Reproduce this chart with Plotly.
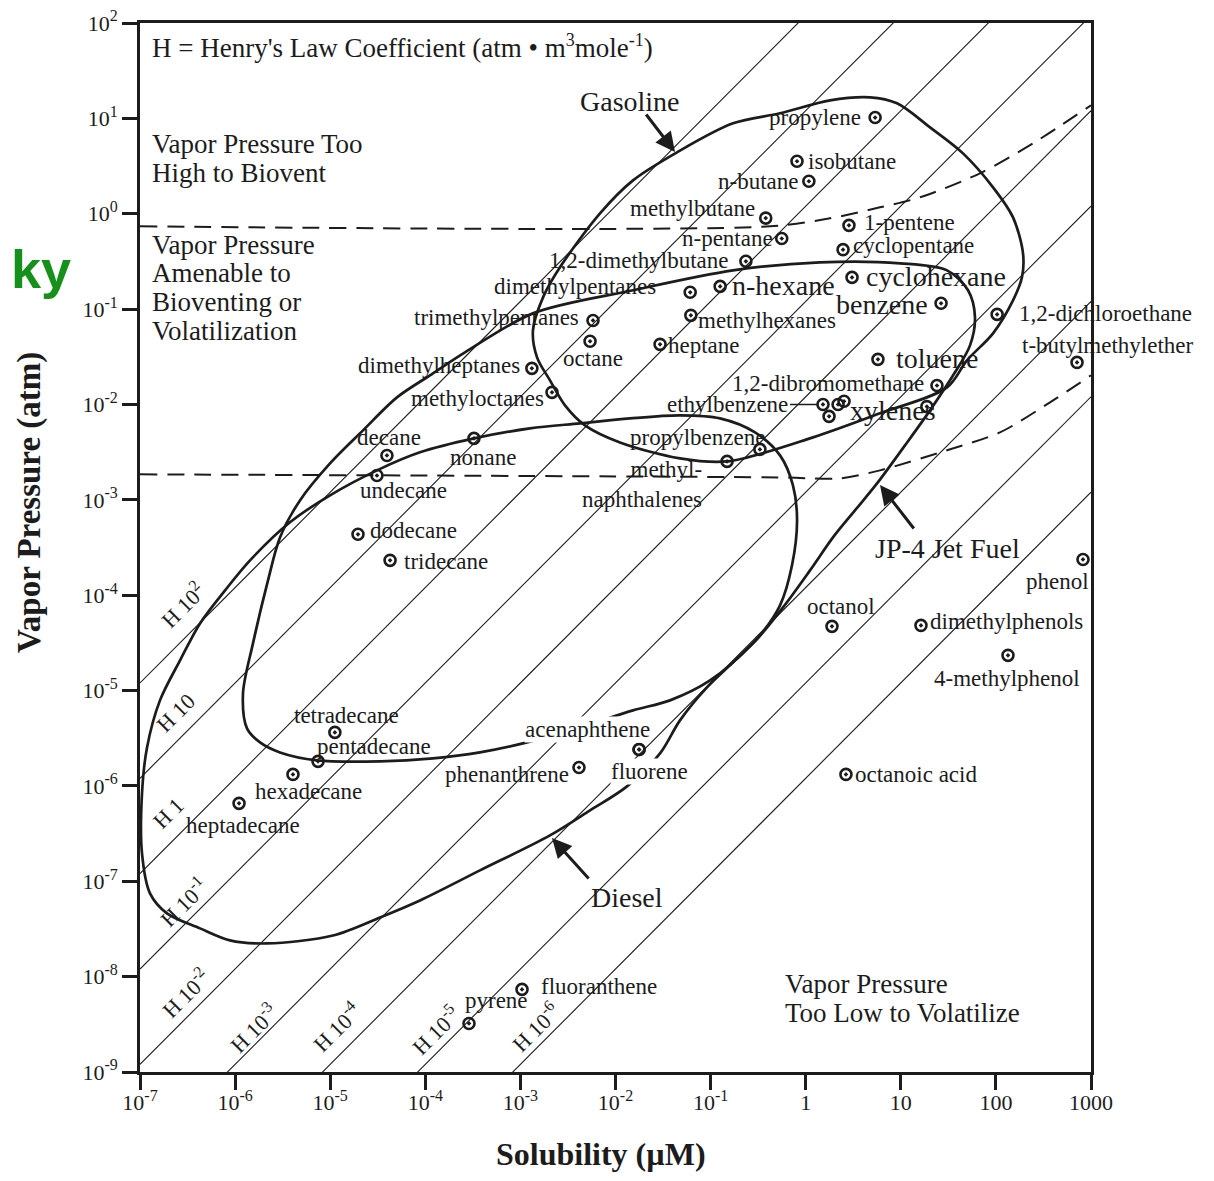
import numpy as np
import plotly.graph_objects as go

# ------------------------------------------------------------------ data
compounds = [
    "propylene", "isobutane", "n-butane", "methylbutane", "n-pentane",
    "1-pentene", "cyclopentane", "1,2-dimethylbutane", "cyclohexane", "n-hexane",
    "dimethylpentanes", "benzene", "methylhexanes", "1,2-dichloroethane", "trimethylpentanes",
    "octane", "heptane", "toluene", "t-butylmethylether", "dimethylheptanes",
    "1,2-dibromomethane", "methyloctanes", "ethylbenzene", "xylenes", "xylenes",
    "xylenes", "xylenes", "decane", "nonane", "propylbenzene",
    "methyl-naphthalenes", "undecane", "dodecane", "tridecane", "phenol",
    "octanol", "dimethylphenols", "4-methylphenol", "tetradecane", "pentadecane",
    "hexadecane", "heptadecane", "phenanthrene", "acenaphthene", "fluorene",
    "octanoic acid", "fluoranthene", "pyrene",
]
solubility_uM = [
    5.37, 0.81, 1.08, 0.38, 0.56,
    2.85, 2.47, 0.235, 3.07, 0.126,
    0.061, 26.5, 0.062, 103, 0.0058,
    0.0054, 0.0294, 5.75, 713, 0.00132,
    24.0, 0.00215, 1.52, 2.19, 2.53,
    1.76, 18.8, 3.95e-5, 3.25e-4, 0.33,
    0.149, 3.1e-5, 1.96e-5, 4.26e-5, 824,
    1.89, 16.3, 134, 1.12e-5, 7.45e-6,
    4.06e-6, 1.10e-6, 4.13e-3, 0.0177, 0.0177,
    2.65, 1.04e-3, 2.88e-4,
]
vapor_pressure_atm = [
    10.2, 3.55, 2.19, 0.90, 0.55,
    0.755, 0.42, 0.317, 0.215, 0.173,
    0.150, 0.115, 0.086, 0.088, 0.076,
    0.046, 0.0427, 0.0297, 0.0276, 0.0239,
    0.0158, 0.0134, 0.0100, 0.0100, 0.0108,
    0.0075, 0.0095, 2.92e-3, 4.41e-3, 3.38e-3,
    2.53e-3, 1.8e-3, 4.35e-4, 2.32e-4, 2.37e-4,
    4.71e-5, 4.82e-5, 2.34e-5, 3.64e-6, 1.81e-6,
    1.32e-6, 6.56e-7, 1.56e-6, 2.41e-6, 2.41e-6,
    1.32e-6, 7.35e-9, 3.23e-9,
]
point_text = [
    "propylene", "isobutane", "n-butane", "methylbutane", "n-pentane",
    "1-pentene", "cyclopentane", "1,2-dimethylbutane", "cyclohexane", "n-hexane",
    "dimethylpentanes", "benzene", "methylhexanes", "1,2-dichloroethane", "trimethylpentanes",
    "octane", "heptane", "toluene", "t-butylmethylether", "dimethylheptanes",
    "1,2-dibromomethane", "methyloctanes", "ethylbenzene", "xylenes", "",
    "", "", "decane", "nonane", "propylbenzene",
    "methyl-<br>naphthalenes", "undecane", "dodecane", "tridecane", "phenol",
    "octanol", "dimethylphenols", "4-methylphenol", "tetradecane", "pentadecane",
    "hexadecane", "heptadecane", "phenanthrene", "acenaphthene", "fluorene",
    "octanoic acid", "fluoranthene", "pyrene",
]

# Henry's law coefficient guide lines (exponents of H)
henry_exponents = [2, 1, 0, -1, -2, -3, -4, -5, -6]
henry_label_exp = ["2", "", "", "-1", "-2", "-3", "-4", "-5", "-6"]
henry_label_base = ["H 10", "H 10", "H 1", "H 10", "H 10", "H 10", "H 10", "H 10", "H 10"]
henry_line_drift = 0.08   # printed guide lines sit slightly above exact H (log10 units)

# envelopes (log10 solubility, log10 vapor pressure)
gasoline_log_s = [-2.762, -2.868, -2.825, -2.689, -2.531, -2.321, -1.953, -1.322, -0.828, 0.077,
                  0.781, 1.486, 1.696, 1.970, 2.180, 2.274, 2.285, 2.180, 1.970, 1.654,
                  1.307, 0.960, 0.676, 0.256, -0.270, -0.764, -1.353, -1.816, -2.163, -2.584, -2.762]
gasoline_log_vp = [-0.877, -1.223, -1.506, -1.747, -2.009, -2.219, -2.398, -2.565, -2.597, -2.345,
                   -2.093, -1.821, -1.537, -1.254, -0.908, -0.667, -0.415, -0.038, 0.277, 0.633,
                   0.906, 1.158, 1.221, 1.189, 1.053, 0.948, 0.644, 0.350, 0.004, -0.562, -0.877]

jp4_log_s = [-5.917, -5.812, -5.654, -5.528, -5.318, -5.002, -4.655, -4.298, -3.951, -3.583,
             -2.868, -1.816, -0.764, 0.150, 0.992, 1.486, 1.707, 1.780, 1.728, 1.570,
             1.307, 1.044, 0.750, 0.518, 0.287, 0.045, -0.239, -0.554, -1.006, -1.427,
             -1.816, -2.373, -2.931, -3.425, -3.919, -4.476, -5.139, -5.528, -5.738, -5.875, -5.917]
jp4_log_vp = [-5.030, -4.505, -3.845, -3.394, -3.006, -2.618, -2.272, -1.926, -1.695, -1.454,
              -1.045, -0.803, -0.594, -0.510, -0.520, -0.594, -0.803, -1.087, -1.380, -1.663,
              -2.062, -2.429, -2.828, -3.111, -3.394, -3.740, -4.128, -4.505, -4.894, -5.103,
              -5.208, -5.386, -5.544, -5.649, -5.712, -5.743, -5.732, -5.649, -5.544, -5.397, -5.030]

diesel_log_s = [-6.979, -6.979, -6.926, -6.790, -6.579, -6.369, -6.106, -5.843, -5.423, -5.002,
                -4.508, -4.056, -3.488, -2.899, -2.373, -1.848, -1.322, -0.901, -0.533, -0.270,
                -0.134, -0.091, -0.144, -0.270, -0.481, -0.743, -1.038, -1.322, -1.532, -1.879,
                -2.268, -2.689, -3.425, -4.056, -4.476, -4.971, -5.665, -6.054, -6.369, -6.716,
                -6.895, -6.979]
diesel_log_vp = [-6.708, -6.079, -5.596, -5.103, -4.684, -4.296, -3.950, -3.635, -3.236, -2.953,
                 -2.691, -2.502, -2.356, -2.251, -2.198, -2.146, -2.114, -2.146, -2.293, -2.534,
                 -2.848, -3.216, -3.687, -4.107, -4.422, -4.684, -4.967, -5.313, -5.659, -6.005,
                 -6.257, -6.519, -6.886, -7.201, -7.379, -7.568, -7.652, -7.620, -7.494, -7.337,
                 -7.127, -6.708]

# dashed bioventing limits
upper_limit_log_s = [-7.0, -0.375, 0.256, 0.781, 1.202, 1.833, 2.390, 3.0]
upper_limit_log_vp = [-0.132, -0.132, -0.048, 0.067, 0.172, 0.424, 0.738, 1.137]
lower_limit_log_s = [-7.0, -0.270, 0.361, 0.781, 1.486, 2.043, 2.569, 3.0]
lower_limit_log_vp = [-2.733, -2.765, -2.775, -2.691, -2.481, -2.293, -1.978, -1.695]

x_range_log = [-7, 3]
y_range_log = [-9, 2]
x_tick_vals = [1e-7, 1e-6, 1e-5, 1e-4, 1e-3, 1e-2, 1e-1, 1, 10, 100, 1000]
x_tick_exp = ["-7", "-6", "-5", "-4", "-3", "-2", "-1", None, None, None, None]
x_tick_plain = ["", "", "", "", "", "", "", "1", "10", "100", "1000"]
y_tick_vals = [1e2, 1e1, 1e0, 1e-1, 1e-2, 1e-3, 1e-4, 1e-5, 1e-6, 1e-7, 1e-8, 1e-9]
y_tick_exp = ["2", "1", "0", "-1", "-2", "-3", "-4", "-5", "-6", "-7", "-8", "-9"]

# ------------------------------------------------------------------ style / layout
SERIF = "Liberation Serif, Times New Roman, serif"
INK = "#1c1c1c"
BODY = 8                          # default page margin around the plot div
WIN_W, WIN_H = 1214, 1181
W, H = WIN_W - 2 * BODY, WIN_H - 2 * BODY
# plot box in window pixels
BOX_L, BOX_R, BOX_T, BOX_B = 140, 1091, 23, 1072
S, B = 23, 28


def sup(base, exp, size):
    if not exp:
        return base
    return f"{base}<sup><span style='font-size:{size}px'>{exp}</span></sup>"


x_tick_text = [sup("10", e, 16) if e else p for e, p in zip(x_tick_exp, x_tick_plain)]
y_tick_text = [sup("10", e, 16) for e in y_tick_exp]
henry_labels = [sup(b, e, 16) for b, e in zip(henry_label_base, henry_label_exp)]

label_layout = [
    ("right", -12, 0, S), ("left", 9, 0, S), ("right", -9, 0, S), ("right", -9, 10, S), ("right", -7, 0, S),
    ("left", 13, 3, S), ("left", 8, 4, S), ("right", -15, 1, S), ("left", 12, 1, B), ("left", 10, 1, B),
    ("right", -32, 6, S), ("right", -11, -1, B), ("left", 5, -5, S), ("left", 20, 1, S), ("right", -12, 3, S),
    ("center", 3, -17, S), ("left", 6, -1, S), ("left", 16, 1, B), ("left", -57, 17, S), ("right", -10, 3, S),
    ("right", -11, 2, S), ("right", -6, -6, S), ("leader", -33, 0, S), ("left", 10, -6, B), None,
    None, None, ("center", 2, 18, S), ("center", 9, -19, S), ("right", 7, 12, S),
    ("right", -23, -23, S), ("center", 27, -15, S), ("left", 10, 4, S), ("left", 12, -1, S), ("right", 8, -22, S),
    ("center", 9, 20, S), ("left", 7, 4, S), ("center", -1, -23, S), ("center", 12, 17, S), ("left", -3, 15, S),
    ("left", -40, -17, S), ("center", 4, -22, S), ("right", -8, -7, S), ("center", -52, 20, S), ("center", 10, -22, S),
    ("left", 7, 0, S), ("left", 17, 3, S), ("left", -6, 23, S),
]
white_bg_labels = {"acenaphthene", "fluorene"}

henry_label_px = [(182, 605), (175, 713), (168, 813), (183, 902), (185, 993),
                  (253, 1028), (336, 1027), (435, 1030), (535, 1027)]


def paper(px, py):
    return (px - BOX_L) / (BOX_R - BOX_L), (BOX_B - py) / (BOX_B - BOX_T)


annotations = []


def text_px(px, py, text, size, anchor="left", **kw):
    x, y = paper(px, py)
    d = dict(x=x, y=y, xref="paper", yref="paper", text=text, showarrow=False,
             xanchor=anchor, yanchor="middle", font=dict(family=SERIF, size=size, color=INK))
    d.update(kw)
    annotations.append(d)


def arrow_px(tip, tail):
    x, y = paper(*tip)
    annotations.append(dict(x=x, y=y, xref="paper", yref="paper", text="", showarrow=True,
                            ax=tail[0] - tip[0], ay=tail[1] - tip[1], arrowhead=2, arrowsize=1.3,
                            arrowwidth=3, arrowcolor=INK))


fig = go.Figure()

# guide lines
s_span = 10.0 ** np.array(x_range_log, dtype=float)
for h in henry_exponents:
    fig.add_trace(go.Scatter(x=s_span, y=s_span * 10.0 ** (h + henry_line_drift), mode="lines",
                             line=dict(color=INK, width=1.1), hoverinfo="skip"))

# dashed limits
for ls, lv in [(upper_limit_log_s, upper_limit_log_vp), (lower_limit_log_s, lower_limit_log_vp)]:
    fig.add_trace(go.Scatter(x=10.0 ** np.array(ls), y=10.0 ** np.array(lv), mode="lines",
                             line=dict(color=INK, width=2, dash="17px,10px", shape="spline", smoothing=0.8),
                             hoverinfo="skip"))

# fuel envelopes
for ls, lv in [(gasoline_log_s, gasoline_log_vp), (jp4_log_s, jp4_log_vp), (diesel_log_s, diesel_log_vp)]:
    fig.add_trace(go.Scatter(x=10.0 ** np.array(ls), y=10.0 ** np.array(lv), mode="lines",
                             line=dict(color=INK, width=2.7, shape="spline", smoothing=0.9),
                             hoverinfo="skip"))

# compounds
fig.add_trace(go.Scatter(x=solubility_uM, y=vapor_pressure_atm, mode="markers", text=compounds,
                         marker=dict(symbol="circle-open-dot", size=11, color=INK,
                                     line=dict(color=INK, width=2.6))))

for name, txt, s, vp, lay in zip(compounds, point_text, solubility_uM, vapor_pressure_atm, label_layout):
    if lay is None or not txt:
        continue
    anchor, dx, dy, size = lay
    base = dict(x=np.log10(s), y=np.log10(vp), xref="x", yref="y", text=txt,
                font=dict(family=SERIF, size=size, color=INK))
    if anchor == "leader":
        base.update(showarrow=True, ax=dx, ay=dy, xanchor="right", yanchor="middle",
                    arrowhead=0, arrowwidth=1.5, arrowcolor=INK, standoff=5)
    else:
        base.update(showarrow=False, xanchor=anchor, yanchor="middle", xshift=dx, yshift=dy,
                    align="right" if anchor == "right" else "left")
        if name in white_bg_labels:
            base.update(bgcolor="white", borderpad=0)
    annotations.append(base)

# H labels
for lab, (px, py) in zip(henry_labels, henry_label_px):
    text_px(px, py, lab, 22, anchor="center", textangle=-45)

# region texts
text_px(150, 47, "H = Henry's Law Coefficient (atm \u2022 m" + sup("", "3", 18) + "mole"
        + sup("", "-1", 18) + ")", 27)
for i, line in enumerate(["Vapor Pressure Too", "High to Biovent"]):
    text_px(150, 144 + 29 * i, line, 27)
for i, line in enumerate(["Vapor Pressure", "Amenable to", "Bioventing or", "Volatilization"]):
    text_px(150, 245 + 28.5 * i, line, 27)
for i, line in enumerate(["Vapor Pressure", "Too Low to Volatilize"]):
    text_px(783, 984 + 28.5 * i, line, 27)

# fuel names and arrows
text_px(630, 102, "Gasoline", 28, anchor="center")
arrow_px((675, 152), (645, 113))
text_px(947, 548, "JP-4 Jet Fuel", 28, anchor="center")
arrow_px((880, 485), (915, 530))
text_px(627, 897, "Diesel", 28, anchor="center")
arrow_px((552, 838), (590, 880))

# axis titles
text_px(601, 1154, "<b>Solubility (\u00b5M)</b>", 32, anchor="center")
text_px(30, 503, "<b>Vapor Pressure (atm)</b>", 33, anchor="center", textangle=-90)

# stray watermark fragment at left edge
x0, y0 = paper(9, 269)
annotations.append(dict(x=x0, y=y0, xref="paper", yref="paper", text="<b>ky</b>", showarrow=False,
                        xanchor="left", yanchor="middle",
                        font=dict(family="Liberation Sans, Arial, sans-serif", size=54, color="#15901a")))

axis_common = dict(type="log", ticks="outside", ticklen=15, tickwidth=2.5, tickcolor=INK,
                   showline=True, linewidth=2.5, linecolor=INK, mirror=True, showgrid=False,
                   zeroline=False, automargin=False, ticklabeloverflow="allow",
                   tickfont=dict(family=SERIF, size=22, color=INK))

fig.update_layout(
    width=W, height=H, autosize=False,
    margin=dict(l=BOX_L - BODY, r=W - (BOX_R - BODY), t=BOX_T - BODY, b=H - (BOX_B - BODY), pad=0),
    paper_bgcolor="white", plot_bgcolor="white", showlegend=False,
    xaxis=dict(range=x_range_log, tickvals=x_tick_vals, ticktext=x_tick_text,
               ticklabelstandoff=-6, **axis_common),
    yaxis=dict(range=y_range_log, tickvals=y_tick_vals, ticktext=y_tick_text, **axis_common),
    annotations=annotations,
)

fig.write_html("out.html")
